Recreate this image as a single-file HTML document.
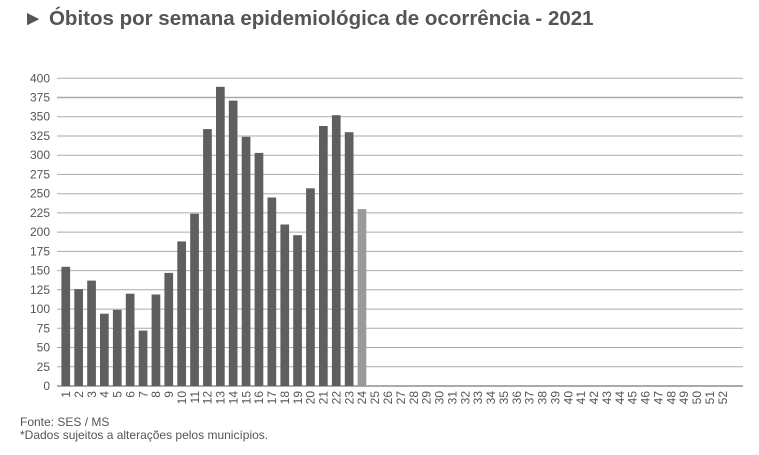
<!DOCTYPE html>
<html><head><meta charset="utf-8"><style>
html,body{margin:0;padding:0;background:#fff;width:759px;height:455px;overflow:hidden}
svg{display:block;font-family:"Liberation Sans",Arial,sans-serif}
</style></head><body>
<svg width="759" height="455" viewBox="0 0 759 455" xmlns="http://www.w3.org/2000/svg">
<rect width="759" height="455" fill="#fff"/>
<text x="23" y="25" font-size="20.5" font-weight="bold" fill="#555">► Óbitos por semana epidemiológica de ocorrência - 2021</text>
<g stroke="#aaa" stroke-width="1">
<line x1="57" x2="743" y1="366.8" y2="366.8"/><line x1="57" x2="743" y1="347.5" y2="347.5"/>
<line x1="57" x2="743" y1="328.3" y2="328.3"/><line x1="57" x2="743" y1="309.1" y2="309.1"/>
<line x1="57" x2="743" y1="289.8" y2="289.8"/><line x1="57" x2="743" y1="270.6" y2="270.6"/>
<line x1="57" x2="743" y1="251.4" y2="251.4"/><line x1="57" x2="743" y1="232.1" y2="232.1"/>
<line x1="57" x2="743" y1="212.9" y2="212.9"/><line x1="57" x2="743" y1="193.7" y2="193.7"/>
<line x1="57" x2="743" y1="174.4" y2="174.4"/><line x1="57" x2="743" y1="155.2" y2="155.2"/>
<line x1="57" x2="743" y1="136" y2="136"/><line x1="57" x2="743" y1="116.7" y2="116.7"/>
<line x1="57" x2="743" y1="97.5" y2="97.5" stroke-width="1.5"/><line x1="57" x2="743" y1="78.3" y2="78.3"/>
</g>
<line x1="57" x2="743" y1="386" y2="386" stroke="#555" stroke-width="1"/>
<g font-size="12" fill="#555" text-anchor="end">
<text x="50" y="390">0</text><text x="50" y="370.8">25</text><text x="50" y="351.5">50</text>
<text x="50" y="332.3">75</text><text x="50" y="313.1">100</text><text x="50" y="293.8">125</text>
<text x="50" y="274.6">150</text><text x="50" y="255.4">175</text><text x="50" y="236.1">200</text>
<text x="50" y="216.9">225</text><text x="50" y="197.7">250</text><text x="50" y="178.4">275</text>
<text x="50" y="159.2">300</text><text x="50" y="140">325</text><text x="50" y="120.7">350</text>
<text x="50" y="101.5">375</text><text x="50" y="82.3">400</text>
</g>
<g fill="#5f5f5f">
<rect x="61.4" y="266.8" width="8.7" height="119.2"/>
<rect x="74.3" y="289.1" width="8.7" height="96.9"/>
<rect x="87.2" y="280.6" width="8.7" height="105.4"/>
<rect x="100" y="313.7" width="8.7" height="72.3"/>
<rect x="112.9" y="309.8" width="8.7" height="76.2"/>
<rect x="125.8" y="293.7" width="8.7" height="92.3"/>
<rect x="138.7" y="330.6" width="8.7" height="55.4"/>
<rect x="151.6" y="294.5" width="8.7" height="91.5"/>
<rect x="164.4" y="272.9" width="8.7" height="113.1"/>
<rect x="177.3" y="241.4" width="8.7" height="144.6"/>
<rect x="190.2" y="213.7" width="8.7" height="172.3"/>
<rect x="203.1" y="129.1" width="8.7" height="256.9"/>
<rect x="216" y="86.8" width="8.7" height="299.2"/>
<rect x="228.8" y="100.6" width="8.7" height="285.4"/>
<rect x="241.7" y="136.8" width="8.7" height="249.2"/>
<rect x="254.6" y="152.9" width="8.7" height="233.1"/>
<rect x="267.5" y="197.5" width="8.7" height="188.5"/>
<rect x="280.4" y="224.5" width="8.7" height="161.5"/>
<rect x="293.2" y="235.2" width="8.7" height="150.8"/>
<rect x="306.1" y="188.3" width="8.7" height="197.7"/>
<rect x="319" y="126" width="8.7" height="260"/>
<rect x="331.9" y="115.2" width="8.7" height="270.8"/>
<rect x="344.8" y="132.2" width="8.7" height="253.8"/>
</g>
<rect x="357.6" y="209.1" width="8.7" height="176.9" fill="#9a9a9a"/>
<g font-size="12" fill="#555" text-anchor="end">
<text transform="translate(70,391) rotate(-90)">1</text>
<text transform="translate(82.9,391) rotate(-90)">2</text>
<text transform="translate(95.8,391) rotate(-90)">3</text>
<text transform="translate(108.6,391) rotate(-90)">4</text>
<text transform="translate(121.5,391) rotate(-90)">5</text>
<text transform="translate(134.4,391) rotate(-90)">6</text>
<text transform="translate(147.3,391) rotate(-90)">7</text>
<text transform="translate(160.2,391) rotate(-90)">8</text>
<text transform="translate(173,391) rotate(-90)">9</text>
<text transform="translate(185.9,391) rotate(-90)">10</text>
<text transform="translate(198.8,391) rotate(-90)">11</text>
<text transform="translate(211.7,391) rotate(-90)">12</text>
<text transform="translate(224.6,391) rotate(-90)">13</text>
<text transform="translate(237.4,391) rotate(-90)">14</text>
<text transform="translate(250.3,391) rotate(-90)">15</text>
<text transform="translate(263.2,391) rotate(-90)">16</text>
<text transform="translate(276.1,391) rotate(-90)">17</text>
<text transform="translate(289,391) rotate(-90)">18</text>
<text transform="translate(301.8,391) rotate(-90)">19</text>
<text transform="translate(314.7,391) rotate(-90)">20</text>
<text transform="translate(327.6,391) rotate(-90)">21</text>
<text transform="translate(340.5,391) rotate(-90)">22</text>
<text transform="translate(353.4,391) rotate(-90)">23</text>
<text transform="translate(366.2,391) rotate(-90)">24</text>
<text transform="translate(379.1,391) rotate(-90)">25</text>
<text transform="translate(392,391) rotate(-90)">26</text>
<text transform="translate(404.9,391) rotate(-90)">27</text>
<text transform="translate(417.8,391) rotate(-90)">28</text>
<text transform="translate(430.6,391) rotate(-90)">29</text>
<text transform="translate(443.5,391) rotate(-90)">30</text>
<text transform="translate(456.4,391) rotate(-90)">31</text>
<text transform="translate(469.3,391) rotate(-90)">32</text>
<text transform="translate(482.2,391) rotate(-90)">33</text>
<text transform="translate(495,391) rotate(-90)">34</text>
<text transform="translate(507.9,391) rotate(-90)">35</text>
<text transform="translate(520.8,391) rotate(-90)">36</text>
<text transform="translate(533.7,391) rotate(-90)">37</text>
<text transform="translate(546.6,391) rotate(-90)">38</text>
<text transform="translate(559.4,391) rotate(-90)">39</text>
<text transform="translate(572.3,391) rotate(-90)">40</text>
<text transform="translate(585.2,391) rotate(-90)">41</text>
<text transform="translate(598.1,391) rotate(-90)">42</text>
<text transform="translate(611,391) rotate(-90)">43</text>
<text transform="translate(623.8,391) rotate(-90)">44</text>
<text transform="translate(636.7,391) rotate(-90)">45</text>
<text transform="translate(649.6,391) rotate(-90)">46</text>
<text transform="translate(662.5,391) rotate(-90)">47</text>
<text transform="translate(675.4,391) rotate(-90)">48</text>
<text transform="translate(688.2,391) rotate(-90)">49</text>
<text transform="translate(701.1,391) rotate(-90)">50</text>
<text transform="translate(714,391) rotate(-90)">51</text>
<text transform="translate(726.9,391) rotate(-90)">52</text>
</g>
<text x="20" y="426" font-size="12" fill="#555">Fonte: SES / MS</text>
<text x="20" y="439" font-size="12" fill="#555">*Dados sujeitos a alterações pelos municípios.</text>
</svg>
</body></html>
